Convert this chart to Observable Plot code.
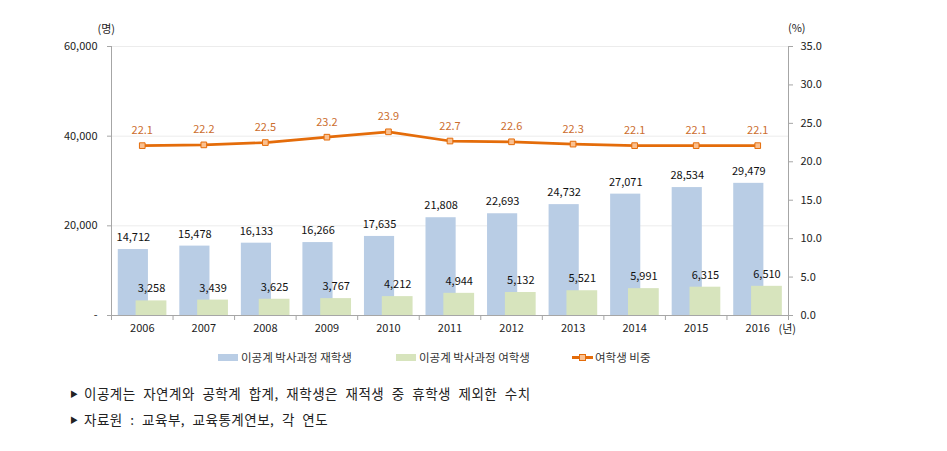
<!DOCTYPE html>
<html>
<head>
<meta charset="utf-8">
<script src="https://cdn.jsdelivr.net/npm/d3@7"></script>
<script src="https://cdn.jsdelivr.net/npm/@observablehq/plot@0.6"></script>
<style>
  html, body { margin: 0; padding: 0; background: #fff; }
  #wrap { position: relative; width: 947px; height: 451px; font-family: "Noto Sans CJK KR", "Noto Sans", sans-serif; color: #222; }
  #chart { position: absolute; left: 0; top: 0; }
  .leg { position: absolute; top: 349px; height: 16px; line-height: 16px; font-size: 11.5px; color: #333; white-space: nowrap; }
  .sw { position: absolute; }
  .note { position: absolute; left: 70px; font-size: 13.5px; color: #222; white-space: nowrap; letter-spacing: 0.5px; word-spacing: 4px; }
  .tri { font-size: 8px; display: inline-block; width: 14px; vertical-align: 2px; }
</style>
</head>
<body>
<div id="wrap">
  <div id="chart"></div>
  <div class="sw" style="left:218px;top:354px;width:20px;height:7px;background:#B9CDE5"></div>
  <div class="leg" style="left:241px">이공계 박사과정 재학생</div>
  <div class="sw" style="left:396px;top:354px;width:20px;height:7px;background:#D7E4BD"></div>
  <div class="leg" style="left:419px">이공계 박사과정 여학생</div>
  <div class="sw" style="left:572px;top:356px;width:21px;height:3px;background:#E46C0A"></div>
  <div class="sw" style="left:579px;top:354px;width:5px;height:5px;background:#FAC090;border:1px solid #E46C0A"></div>
  <div class="leg" style="left:595px">여학생 비중</div>
  <div class="note" style="top:383px"><span class="tri">▶</span>이공계는 자연계와 공학계 합계, 재학생은 재적생 중 휴학생 제외한 수치</div>
  <div class="note" style="top:409px"><span class="tri">▶</span>자료원 : 교육부, 교육통계연보, 각 연도</div>
</div>
<script>
const years = [2006, 2007, 2008, 2009, 2010, 2011, 2012, 2013, 2014, 2015, 2016];
const enrolled = [14712, 15478, 16133, 16266, 17635, 21808, 22693, 24732, 27071, 28534, 29479];
const female = [3258, 3439, 3625, 3767, 4212, 4944, 5132, 5521, 5991, 6315, 6510];
const femaleShare = [22.1, 22.2, 22.5, 23.2, 23.9, 22.7, 22.6, 22.3, 22.1, 22.1, 22.1];
const leftTicks = [0, 20000, 40000, 60000];
const rightTicks = [0, 5, 10, 15, 20, 25, 30, 35];

const leftMax = 60000, rightMax = 35;
const k = leftMax / rightMax;
const data = years.map((year, i) => ({year, enrolled: enrolled[i], female: female[i], share: femaleShare[i]}));

const blue = "#B9CDE5", green = "#D7E4BD", orange = "#E46C0A";
const fmt = d3.format(",");
const font = "'Noto Sans CJK KR', 'Noto Sans', sans-serif";

const chart = Plot.plot({
  width: 947,
  height: 345,
  marginLeft: 111,
  marginRight: 159,
  marginTop: 46,
  marginBottom: 30,
  style: {fontFamily: font, fontSize: "11px", color: "#333", background: "#fff"},
  x: {type: "linear", domain: [years[0] - 0.5, years[years.length - 1] + 0.5]},
  y: {domain: [0, leftMax]},
  marks: [
    Plot.ruleY(leftTicks.filter(d => d > 0), {stroke: "#ececec"}),
    Plot.rectY(data, {x1: d => d.year - 0.39, x2: d => d.year + 0.1, y: "enrolled", fill: blue}),
    Plot.rectY(data, {x1: d => d.year - 0.1, x2: d => d.year + 0.4, y: "female", fill: green}),
    Plot.ruleX([years[0] - 0.5, years[years.length - 1] + 0.5], {stroke: "#a6a6a6"}),
    Plot.ruleY([0], {stroke: "#a6a6a6"}),
    Plot.line(data, {x: "year", y: d => d.share * k, stroke: orange, strokeWidth: 2.7}),
    Plot.dot(data, {x: "year", y: d => d.share * k, symbol: "square", r: 3.2, fill: "#FAC090", stroke: orange, strokeWidth: 1}),
    Plot.text(data, {x: d => d.year - 0.145, y: "enrolled", text: d => fmt(d.enrolled), dy: -12, fill: "#111", fontSize: 11}),
    Plot.text(data, {x: d => d.year + 0.15, y: "female", text: d => fmt(d.female), dy: -12, fill: "#111", fontSize: 11}),
    Plot.text(data, {x: "year", y: d => d.share * k, text: d => d.share.toFixed(1), dy: -15, fill: "#CC6E2E", fontSize: 11}),
    Plot.axisY({ticks: leftTicks, tickFormat: d => d === 0 ? "-" : fmt(d), tickSize: 4, tickPadding: 10, stroke: "#a6a6a6", fill: "#222", label: null}),
    Plot.axisY({anchor: "right", ticks: rightTicks.map(p => p * k), tickFormat: d => (d / k).toFixed(1), tickSize: 4, tickPadding: 8, stroke: "#a6a6a6", fill: "#222", label: null}),
    Plot.axisX({ticks: d3.range(years[0] - 0.5, years[years.length - 1] + 1, 1), tickFormat: () => "", tickSize: 5, stroke: "#a6a6a6", label: null}),
    Plot.axisX({ticks: years, tickFormat: d => String(d), tickSize: 0, tickPadding: 9, fill: "#222", label: null}),
    Plot.text(["(명)"], {text: d => d, frameAnchor: "top-left", dx: -14, dy: -21, fill: "#222", fontSize: 11}),
    Plot.text(["(%)"], {text: d => d, frameAnchor: "top-right", dx: 17, dy: -22, fill: "#222", fontSize: 11}),
    Plot.text(["(년)"], {text: d => d, frameAnchor: "bottom-right", dx: -10, dy: 17, textAnchor: "start", fill: "#222", fontSize: 11})
  ]
});
document.getElementById("chart").appendChild(chart);
</script>
</body>
</html>
